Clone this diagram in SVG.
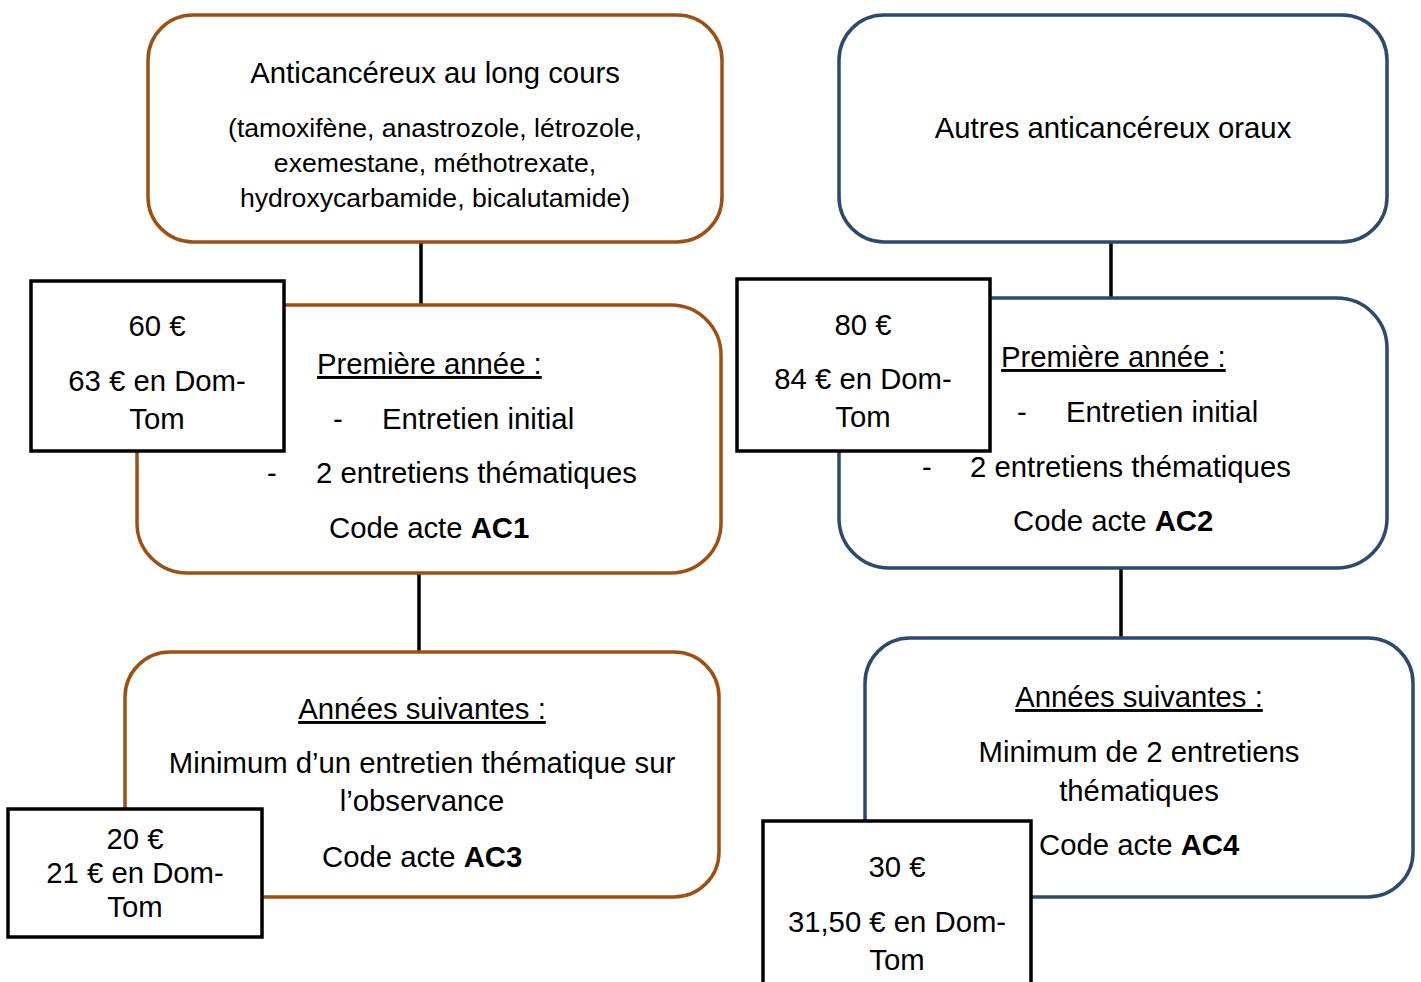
<svg xmlns="http://www.w3.org/2000/svg" width="1421" height="982" viewBox="0 0 1421 982">
<style>
text{font-family:"Liberation Sans",Arial,sans-serif;font-size:29.3px;fill:#000}
.c{text-anchor:middle}
.s{font-size:26.6px}
.b{font-weight:bold}
.u{text-decoration:underline}
.br{fill:#fff;stroke:#9E5012;stroke-width:3.5}
.nv{fill:#fff;stroke:#2C4A6E;stroke-width:3.5}
.pr{fill:#fff;stroke:#000;stroke-width:3.5}
.ln{stroke:#000;stroke-width:3.5;fill:none}
</style>
<rect width="1421" height="982" fill="#fff"/>
<g id="connectors">
<line class="ln" x1="421" y1="242" x2="421" y2="305"/>
<line class="ln" x1="419" y1="573" x2="419" y2="652"/>
<line class="ln" x1="1111" y1="243" x2="1111" y2="298"/>
<line class="ln" x1="1121" y1="569" x2="1121" y2="638"/>
</g>
<g id="n1">
<rect class="br" x="148" y="15" width="574" height="227" rx="45"/>
<text class="c" x="435" y="83">Anticancéreux au long cours</text>
<text class="c s" x="435" y="137">(tamoxifène, anastrozole, létrozole,</text>
<text class="c s" x="435" y="172">exemestane, méthotrexate,</text>
<text class="c s" x="435" y="207">hydroxycarbamide, bicalutamide)</text>
</g>
<g id="n2">
<rect class="br" x="137" y="305" width="584" height="268" rx="50"/>
<text class="u" x="317" y="374">Première année :</text>
<text x="333" y="429">-</text>
<text x="382" y="429">Entretien initial</text>
<text x="267" y="483">-</text>
<text x="316" y="483">2 entretiens thématiques</text>
<text x="329" y="538">Code acte <tspan class="b">AC1</tspan></text>
</g>
<g id="p1">
<rect class="pr" x="31" y="281" width="253" height="170"/>
<text class="c" x="157" y="336">60 €</text>
<text class="c" x="157" y="391">63 € en Dom-</text>
<text class="c" x="157" y="429">Tom</text>
</g>
<g id="n3">
<rect class="br" x="125" y="652" width="594" height="245" rx="45"/>
<text class="c u" x="422" y="719">Années suivantes :</text>
<text class="c" x="422" y="773">Minimum d’un entretien thématique sur</text>
<text class="c" x="422" y="811">l’observance</text>
<text x="322" y="867">Code acte <tspan class="b">AC3</tspan></text>
</g>
<g id="p3">
<rect class="pr" x="8" y="809" width="254" height="128"/>
<text class="c" x="135" y="849">20 €</text>
<text class="c" x="135" y="883">21 € en Dom-</text>
<text class="c" x="135" y="917">Tom</text>
</g>
<g id="n4">
<rect class="nv" x="839" y="15" width="548" height="227" rx="45"/>
<text class="c" x="1113" y="138">Autres anticancéreux oraux</text>
</g>
<g id="n5">
<rect class="nv" x="839" y="298" width="548" height="270" rx="50"/>
<text class="u" x="1001" y="367">Première année :</text>
<text x="1017" y="422">-</text>
<text x="1066" y="422">Entretien initial</text>
<text x="922" y="477">-</text>
<text x="970" y="477">2 entretiens thématiques</text>
<text x="1013" y="531">Code acte <tspan class="b">AC2</tspan></text>
</g>
<g id="p2">
<rect class="pr" x="737" y="279" width="253" height="172"/>
<text class="c" x="863" y="335">80 €</text>
<text class="c" x="863" y="389">84 € en Dom-</text>
<text class="c" x="863" y="427">Tom</text>
</g>
<g id="n6">
<rect class="nv" x="865" y="638" width="548" height="259" rx="45"/>
<text class="c u" x="1139" y="707">Années suivantes :</text>
<text class="c" x="1139" y="762">Minimum de 2 entretiens</text>
<text class="c" x="1139" y="801">thématiques</text>
<text x="1039" y="855">Code acte <tspan class="b">AC4</tspan></text>
</g>
<g id="p4">
<rect class="pr" x="763" y="821" width="268" height="180"/>
<text class="c" x="897" y="877">30 €</text>
<text class="c" x="897" y="932">31,50 € en Dom-</text>
<text class="c" x="897" y="970">Tom</text>
</g>
</svg>
